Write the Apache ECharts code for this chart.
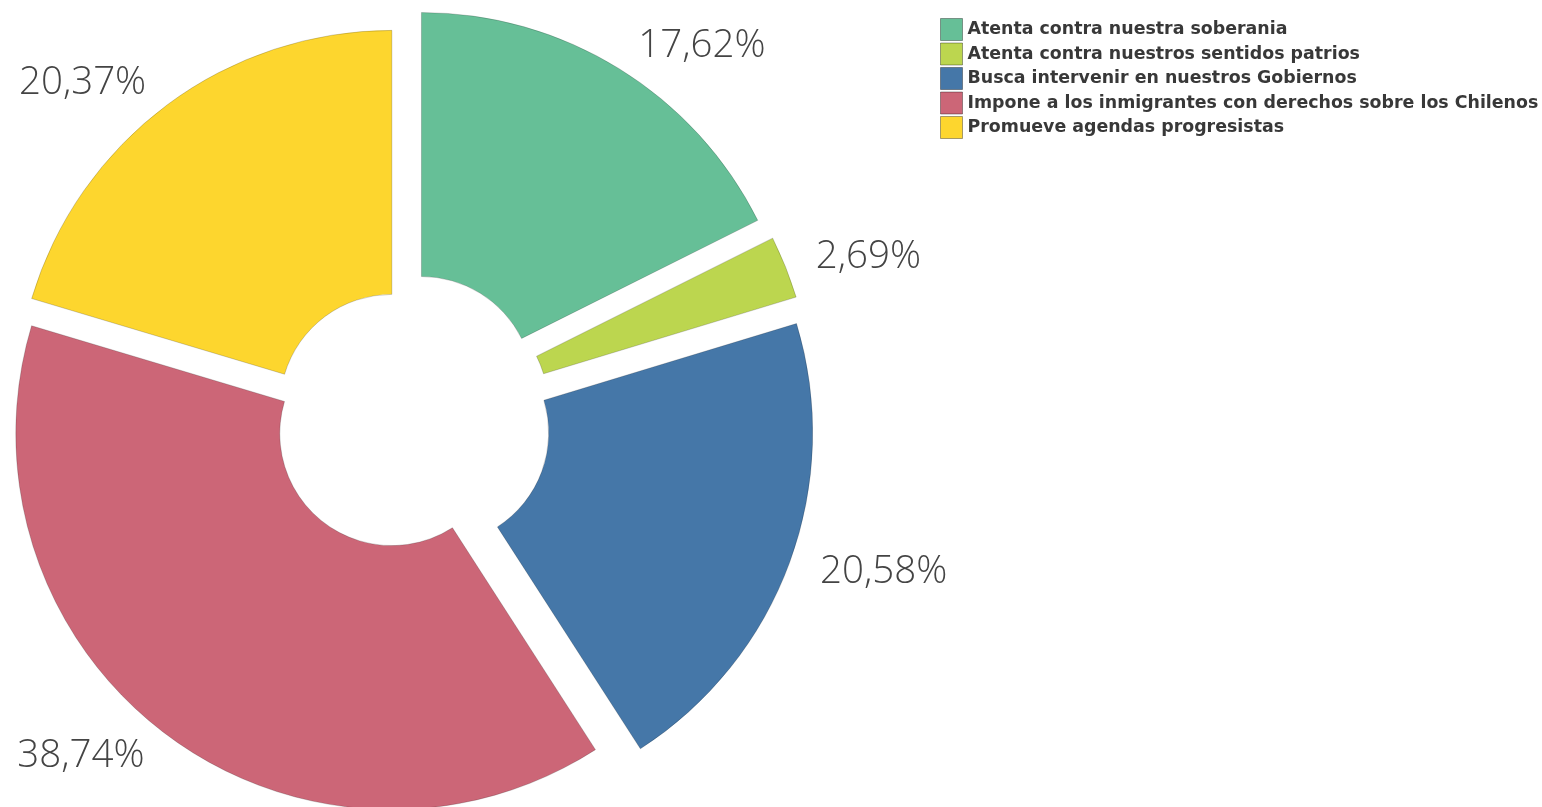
<!DOCTYPE html>
<html>
<head>
<meta charset="utf-8">
<title>Pie</title>
<script src="https://cdn.jsdelivr.net/npm/echarts@6/dist/echarts.min.js"></script>
<style>
  html, body { margin: 0; padding: 0; background: #fff; }
  #chart { width: 1542px; height: 807px; }
</style>
</head>
<body>
<div id="chart"></div>
<script>
// categories and values (percent)
const categories = [
  'Atenta contra nuestra soberania',
  'Atenta contra nuestros sentidos patrios',
  'Busca intervenir en nuestros Gobiernos',
  'Impone a los inmigrantes con derechos sobre los Chilenos',
  'Promueve agendas progresistas'
]
const values = [17.62, 2.69, 20.58, 38.74, 20.37]
const colors = ['#66BF97', '#BCD64F', '#4577A8', '#CC6677', '#FDD62E']
// which slices are pulled out further
const farOut = [true, true, true, false, false]

const chart = echarts.init(document.getElementById('chart'))

// builds the data of one pie series: only the slices of the group are shown,
// the others stay in place (for the angles) but are invisible
function buildData(group) {
  return categories.map((name, i) => {
    const visible = farOut[i] === group
    return {
      name: name,
      value: values[i],
      selected: visible,
      itemStyle: visible
        ? { color: colors[i], borderColor: 'rgba(0,0,0,0.18)', borderWidth: 1 }
        : { color: 'rgba(0,0,0,0)', borderWidth: 0 },
      label: { show: visible }
    }
  })
}

function pieSeries(group, offset) {
  return {
    type: 'pie',
    center: [402, 420],
    radius: [112, 376],
    startAngle: 90,
    clockwise: true,
    selectedMode: 'multiple',
    selectedOffset: offset,
    avoidLabelOverlap: false,
    emphasis: { disabled: true },
    label: {
      position: 'outside',
      fontFamily: 'Open Sans',
      fontWeight: 300,
      fontSize: 38.5,
      color: '#444',
      formatter: p => p.value.toFixed(2).replace('.', ',') + '%'
    },
    labelLine: { show: false, length: 27, length2: 0 },
    data: buildData(group)
  }
}

const option = {
  animation: false,
  legend: {
    orient: 'vertical',
    left: 935,
    top: 13,
    itemWidth: 22,
    itemHeight: 22,
    itemGap: 1.5,
    icon: 'rect',
    selectedMode: false,
    textStyle: {
      fontFamily: 'DejaVu Sans',
      fontWeight: 'bold',
      fontSize: 17.4,
      color: '#383838'
    },
    data: categories.map((name, i) => ({
      name: name,
      itemStyle: { color: colors[i], borderColor: 'rgba(0,0,0,0.35)', borderWidth: 1 }
    }))
  },
  series: [pieSeries(true, 37), pieSeries(false, 17)]
}

chart.setOption(option)
</script>
</body>
</html>
